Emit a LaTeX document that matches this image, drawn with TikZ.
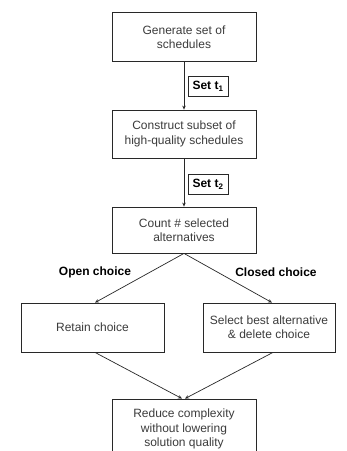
\documentclass[tikz,border=0pt]{standalone}
\usepackage{fontspec}
\setmainfont{Liberation Sans}
\usepackage{tikz}
\usetikzlibrary{arrows.meta,positioning}
\definecolor{txtgray}{RGB}{60,60,60}
\definecolor{linegray}{RGB}{40,40,40}

\begin{document}
\begin{tikzpicture}[
  x=1pt, y=-1pt,
  font=\fontsize{12}{14.4}\selectfont,
  box/.style={draw=linegray, line width=0.8pt, align=center, text=txtgray,
              minimum width=144pt, minimum height=49pt, inner sep=4pt},
  tag/.style={draw=linegray, line width=0.8pt, font=\fontsize{12}{14.4}\selectfont\bfseries,
              minimum width=40pt, minimum height=20pt, inner sep=2pt},
  lbl/.style={font=\fontsize{12}{14.4}\selectfont\bfseries},
  arr/.style={-{Stealth[length=4pt,width=3.5pt]}, line width=0.7pt, color=linegray}
]
\clip (0,0) rectangle (347,451);
\fill[white] (0,0) rectangle (347,451);

\node[box] (gen) at (184,37)    {Generate set of\\schedules};
\node[box, minimum height=48pt] (sub) at (184,134) {Construct subset of\\high-quality schedules};
\node[box, minimum height=46pt] (cnt) at (184,230) {Count \# selected\\alternatives};
\node[box, minimum width=143pt] (ret) at (92.5,327.5) {Retain choice};
\node[box, minimum width=132pt] (sel) at (269,327.5)  {Select best alternative\\\& delete choice};
\node[box, minimum height=60pt] (red) at (184,429)  {Reduce complexity\\without lowering\\solution quality};

\node[tag] (t1) at (208,86)  {Set t\textsubscript{1}};
\node[tag] (t2) at (208,184) {Set t\textsubscript{2}};
\node[lbl] (open)  at (95,272)  {Open choice};
\node[lbl] (closed) at (276,272) {Closed choice};

\draw[arr] (gen.south) -- (sub.north);
\draw[arr] (sub.south) -- (cnt.north);
\draw[arr] (cnt.south) -- ([xshift=2.5pt]ret.north);
\draw[arr] (cnt.south) -- ([xshift=3pt]sel.north);
\draw[arr] ([xshift=2.5pt]ret.south) -- ([xshift=-2pt]red.north);
\draw[arr] ([xshift=4pt]sel.south) -- ([xshift=1pt]red.north);

\end{tikzpicture}
\end{document}
